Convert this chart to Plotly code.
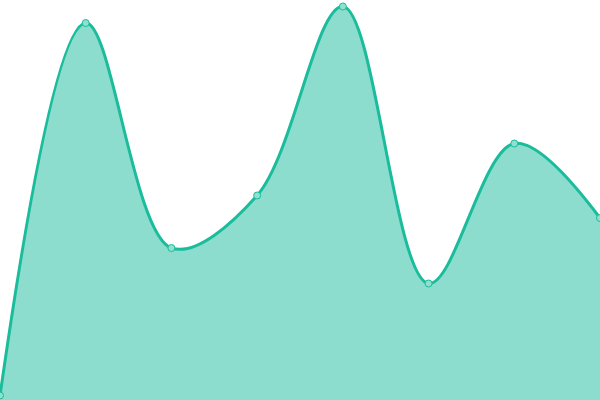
import plotly.graph_objects as go

# Data (8 evenly spaced points)
x_vals = [0, 1, 2, 3, 4, 5, 6, 7]
y_vals = [4.5, 377, 152, 204.5, 393.5, 116.5, 256.5, 182]

line_color = "#1abc9c"

fig = go.Figure()
fig.add_trace(go.Scatter(
    x=x_vals, y=y_vals,
    mode="lines+markers",
    line=dict(color=line_color, width=3, shape="spline", smoothing=1),
    fill="tozeroy",
    fillcolor="rgba(26,188,156,0.5)",
    marker=dict(size=7, color="#8fe0cf", line=dict(color=line_color, width=1)),
    hoverinfo="x+y",
))

fig.update_layout(
    width=600, height=400,
    margin=dict(l=0, r=0, t=0, b=0),
    paper_bgcolor="white", plot_bgcolor="white",
    showlegend=False,
    xaxis=dict(range=[0, 7], visible=False, fixedrange=True),
    yaxis=dict(range=[0, 400], visible=False, fixedrange=True),
)

# drop the default page margin so the chart sits at the window's corner
fig.write_html("out.html", config={"displayModeBar": False},
               post_script="document.body.style.margin='0';")
